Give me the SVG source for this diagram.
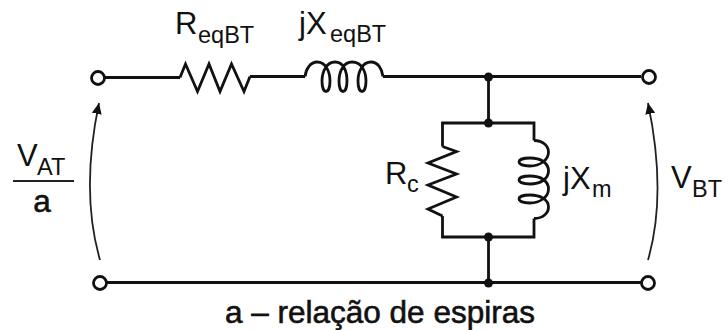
<svg xmlns="http://www.w3.org/2000/svg" width="728" height="330" viewBox="0 0 728 330">
<style>
.w{fill:none;stroke:#111;stroke-width:2.800;stroke-linejoin:miter}
.v{fill:none;stroke:#222;stroke-width:1.800}
.t{fill:#111;stroke:none}
text{font-family:"Liberation Sans",Arial,sans-serif;fill:#111}
.m{font-size:31px}
.s{font-size:23.500px}
.b{font-size:31.500px;stroke:#111;stroke-width:.6px}
</style>
<defs><marker id="ah" markerUnits="userSpaceOnUse" markerWidth="12" markerHeight="12" refX="11" refY="5" orient="auto"><path d="M0,0L11,5L0,10Z" fill="#111"/></marker></defs>
<rect width="728" height="330" fill="#fff"/>
<g id="connectors">
<path class="w" d="M105,77.500H180M250,76.500H305M383,76.500H641M488.500,77V123M488.500,237V283M106,282.500H641"/>
<path class="w" d="M442.500,146.500V123H534V140.500M534,218.500V237H442.500V216"/>
<path class="v" d="M100,260C87,215 86,165 99,103" marker-end="url(#ah)"/>
<path class="v" d="M648,260C661,215 661,165 648,103" marker-end="url(#ah)"/>
</g>
<g id="term-tl"><circle class="w" cx="98" cy="78" r="6.500" fill="#fff"/></g>
<g id="term-bl"><circle class="w" cx="100" cy="283" r="6.500" fill="#fff"/></g>
<g id="term-tr"><circle class="w" cx="649" cy="77" r="6.500" fill="#fff"/></g>
<g id="term-br"><circle class="w" cx="648" cy="283" r="6.500" fill="#fff"/></g>
<g id="junctions">
<circle class="t" cx="488.500" cy="77" r="4.500"/>
<circle class="t" cx="488.500" cy="123" r="4.500"/>
<circle class="t" cx="488.500" cy="237" r="4.500"/>
<circle class="t" cx="488.500" cy="283" r="4.500"/>
</g>
<g id="r-eq">
<path class="w" d="M180,77.500L185.500,64L197.500,91.500L209,64L220,91.500L231.500,64L244,91.500L250,76.500"/>
<text class="m" x="175" y="34">R</text><text class="s" x="198" y="43">eqBT</text>
</g>
<g id="x-eq">
<path class="w" d="M305,76.500C306,68 311,62 317,62C326,62 330,72 330,81C330,88 328,91.500 326,91.500C324,91.500 322,88 322,81C322,71 327,62 335,62C344,62 347,72 347,81C347,88 345,91.500 343,91.500C341,91.500 339,88 339,81C339,71 344,62 352,62C362,62 366,72 366,81C366,88 364,91.500 362,91.500C360,91.500 358,88 358,81C358,71 363,62 371,62C378,62 382,69 383,76.500"/>
<text class="m" x="299" y="34">jX</text><text class="s" x="330" y="42">eqBT</text>
</g>
<g id="r-c">
<path class="w" d="M442.500,146.500L456.500,151.500L428,163L456.500,174L428,185L456.500,197L428,209L442.500,216"/>
<text class="m" x="385" y="184">R</text><text class="s" x="407" y="192">c</text>
</g>
<g id="x-m">
<path class="w" d="M534,140.500C543,140.500 548.500,146 548.500,152C548.500,160 540,166 530,166C524,166 519,164.500 519,162C519,159.500 524,158 530,158C541,158 548.500,163 548.500,171C548.500,179 540,184 530,184C524,184 519,182.500 519,180C519,177.500 524,176 530,176C541,176 548.500,181 548.500,189C548.500,197 540,203 530,203C524,203 519,201.500 519,199C519,196.500 524,195 530,195C541,195 548.500,200 548.500,207C548.500,213 543,218.500 534,218.500"/>
<text class="m" x="563" y="189">jX</text><text class="s" x="592" y="197">m</text>
</g>
<g id="v-at">
<text class="m" x="17" y="166">V</text><text class="s" x="37" y="175">AT</text>
<path d="M13,181H74" stroke="#222" stroke-width="1.800" fill="none"/>
<text class="b" x="42" y="212" text-anchor="middle">a</text>
</g>
<g id="v-bt">
<text class="m" x="671" y="188">V</text><text class="s" x="692" y="197">BT</text>
</g>
<text id="caption" class="b" x="225" y="323" xml:space="preserve">a – relação de espiras</text>
</svg>
